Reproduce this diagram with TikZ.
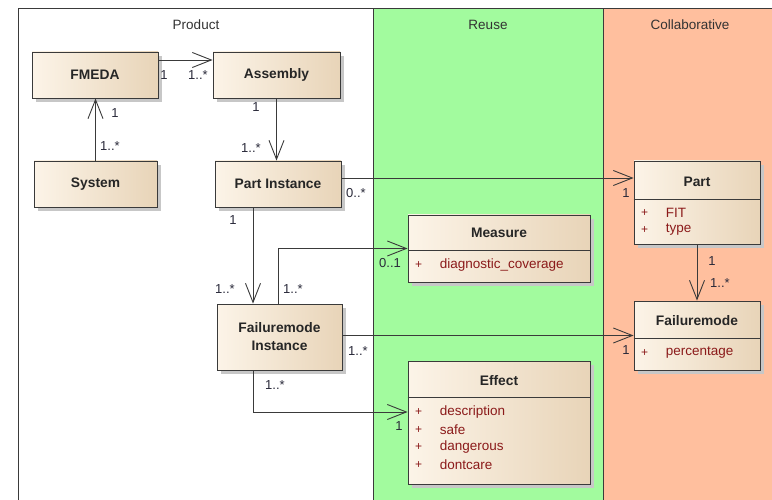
\documentclass[tikz,border=0pt]{standalone}
\usepackage{fontspec}
\setmainfont{Liberation Sans}
\usetikzlibrary{arrows.meta,shadows}
\definecolor{reuseGreen}{HTML}{A2FB9E}
\definecolor{collabSalmon}{HTML}{FFBF9E}
\definecolor{boxL}{HTML}{FCF4E8}
\definecolor{boxR}{HTML}{E8D4B8}
\definecolor{attrRed}{HTML}{8B1A1A}
\definecolor{edgeGray}{HTML}{3A3A3A}
\definecolor{multInk}{HTML}{2A2A3A}

% one attribute row of a class box: box name, offset below its top, text
\newcommand\attrrow[3]{%
  \node[plus] at ([xshift=11pt,yshift=-#2pt]#1.north west) {+};
  \node[attr] at ([xshift=32pt,yshift=-#2pt]#1.north west) {#3};}

\begin{document}
\begin{tikzpicture}[x=1pt,y=-1pt,
  cls/.style={draw=edgeGray, line width=0.9pt, left color=boxL, right color=boxR,
    drop shadow={shadow xshift=4pt,shadow yshift=-4pt,fill=black!22,opacity=1},
    inner sep=0pt, font=\bfseries\fontsize{13.8}{18}\selectfont, text=black!85, align=center},
  ttl/.style={font=\bfseries\fontsize{13.8}{16}\selectfont, text=black!85, inner sep=0pt},
  attr/.style={font=\fontsize{13.5}{16}\selectfont, text=attrRed, inner sep=0pt, anchor=west},
  plus/.style={font=\fontsize{12}{14}\selectfont, text=attrRed, inner sep=0pt},
  mult/.style={font=\fontsize{13}{15}\selectfont, text=multInk, inner sep=0pt},
  pane/.style={font=\fontsize{13.5}{16}\selectfont, text=black!80, inner sep=0pt},
  divider/.style={draw=edgeGray, line width=0.9pt},
  frame/.style={draw=edgeGray, line width=1pt},
  assoc/.style={draw=edgeGray, line width=0.9pt, -{Straight Barb[length=19pt,width=15pt]}},
]
\useasboundingbox (0,0) rectangle (772,500);
\fill[white] (0,0) rectangle (772,500);

% packages
\fill[reuseGreen] (373,9) rectangle (603,500);
\fill[collabSalmon] (603,9) rectangle (772,500);
\draw[frame] (18,500) -- (18,9) -- (772,9);
\draw[frame] (373,9) -- (373,500);
\draw[frame] (603,9) -- (603,500);
\node[pane] (tprod) at (196,25) {Product};
\node[pane] (treuse) at (488,25) {Reuse};
\node[pane] (tcollab) at (690,25) {Collaborative};

% simple classes
\node[cls, minimum width=126pt, minimum height=46pt] (fmeda) at (95,75) {FMEDA};
\node[cls, minimum width=127pt, minimum height=46pt] (assembly) at (276.5,75) {Assembly};
\node[cls, minimum width=123pt, minimum height=46pt] (system) at (95.5,184) {System};
\node[cls, minimum width=126pt, minimum height=46pt] (pinst) at (278,184) {Part Instance};
\node[cls, minimum width=125pt, minimum height=66pt] (finst) at (279.5,337) {Failuremode\\Instance};

% classes with attributes
\node[cls, minimum width=182pt, minimum height=67pt] (measure) at (499,248.5) {};
\node[cls, minimum width=126pt, minimum height=83pt] (part) at (697,202.5) {};
\node[cls, minimum width=126pt, minimum height=69pt] (fmode) at (697,335.5) {};
\node[cls, minimum width=182pt, minimum height=123pt] (effect) at (499,422.5) {};

\draw[divider] ([yshift=-36pt]measure.north west) -- ([yshift=-36pt]measure.north east);
\draw[divider] ([yshift=-39pt]part.north west) -- ([yshift=-39pt]part.north east);
\draw[divider] ([yshift=-38pt]fmode.north west) -- ([yshift=-38pt]fmode.north east);
\draw[divider] ([yshift=-37pt]effect.north west) -- ([yshift=-37pt]effect.north east);

\node[ttl] at ([yshift=-18pt]measure.north) {Measure};
\node[ttl] at ([yshift=-21.5pt]part.north) {Part};
\node[ttl] at ([yshift=-20.5pt]fmode.north) {Failuremode};
\node[ttl] at ([yshift=-20pt]effect.north) {Effect};

\attrrow{measure}{50}{diagnostic\_coverage}
\attrrow{part}{52}{FIT}
\attrrow{part}{69}{type}
\attrrow{fmode}{52}{percentage}
\attrrow{effect}{51}{description}
\attrrow{effect}{69}{safe}
\attrrow{effect}{86}{dangerous}
\attrrow{effect}{104}{dontcare}

% associations
\coordinate (fmE) at ([yshift=15pt]fmeda.east);
\draw[assoc] (fmE) -- (fmE -| assembly.west);
\draw[assoc] (system.north) -- (system.north |- fmeda.south);
\draw[assoc] (assembly.south) -- (assembly.south |- pinst.north);
\coordinate (piE) at ([yshift=6pt]pinst.east);
\draw[assoc] (piE) -- (piE -| part.west);
\coordinate (piS) at ([xshift=-25pt]pinst.south);
\draw[assoc] (piS) -- (piS |- finst.north);
\coordinate (fiN) at ([xshift=-1.5pt]finst.north);
\draw[assoc] (fiN) |- (measure.west);
\coordinate (fiE) at (finst.east |- fmode.west);
\draw[assoc] (fiE) -- (fmode.west);
\coordinate (fiS) at ([xshift=-26.5pt]finst.south);
\coordinate (efW) at ([yshift=10.5pt]effect.west);
\draw[assoc] (fiS) |- (efW);
\draw[assoc] (part.south) -- (part.south |- fmode.north);

% multiplicities
\node[mult] at (164,75) {1};
\node[mult] at (198,75) {1..*};
\node[mult] at (115,113) {1};
\node[mult] at (110,146) {1..*};
\node[mult] at (256,107) {1};
\node[mult] at (251,148) {1..*};
\node[mult] at (356,193) {0..*};
\node[mult] at (626,193) {1};
\node[mult] at (233,220) {1};
\node[mult] at (225,289) {1..*};
\node[mult] at (293,289) {1..*};
\node[mult] at (390,263) {0..1};
\node[mult] at (358,351) {1..*};
\node[mult] at (626,350) {1};
\node[mult] at (275,385) {1..*};
\node[mult] at (399,426) {1};
\node[mult] at (712,261) {1};
\node[mult] at (720,283) {1..*};
\end{tikzpicture}
\end{document}
